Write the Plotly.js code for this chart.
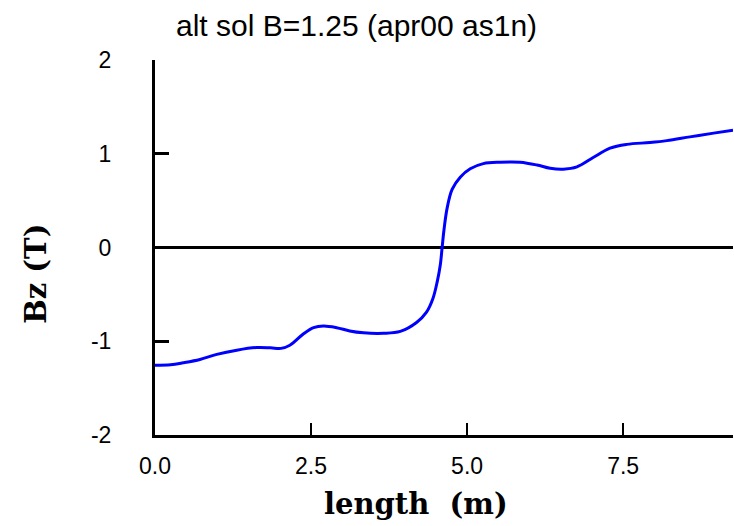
<!DOCTYPE html>
<html>
<head>
<meta charset="utf-8">
<script src="https://cdn.plot.ly/plotly-3.0.1.min.js"></script>
<style>html,body{margin:0;padding:0;background:#fff;}#chart{width:734px;height:526px;}</style>
</head>
<body>
<div id="chart"></div>
<script>
var lengthM = [0.0, 0.25, 0.45, 0.72, 0.99, 1.31, 1.63, 1.85, 2.02, 2.16, 2.38, 2.54, 2.70, 2.91, 3.12, 3.34, 3.66, 3.93, 4.19, 4.35, 4.45, 4.52, 4.57, 4.60, 4.63, 4.68, 4.76, 4.89, 5.05, 5.26, 5.53, 5.85, 6.12, 6.33, 6.54, 6.76, 7.02, 7.29, 7.56, 7.93, 8.20, 8.57, 8.95, 9.26];
var bz = [-1.255, -1.25, -1.23, -1.195, -1.14, -1.095, -1.067, -1.07, -1.076, -1.043, -0.92, -0.855, -0.837, -0.855, -0.89, -0.91, -0.915, -0.895, -0.80, -0.69, -0.55, -0.37, -0.19, 0.0, 0.19, 0.42, 0.62, 0.75, 0.84, 0.895, 0.91, 0.91, 0.88, 0.845, 0.835, 0.86, 0.96, 1.06, 1.10, 1.12, 1.14, 1.18, 1.22, 1.25];
var xTicks = [0, 2.5, 5, 7.5];
var xTickText = ['0.0', '2.5', '5.0', '7.5'];
var yTicks = [-2, -1, 0, 1, 2];
var yTickText = ['-2', '-1', '0', '1', '2'];

var trace = {
  x: lengthM, y: bz, type: 'scatter', mode: 'lines',
  line: {color: '#0000ff', width: 3, shape: 'spline', smoothing: 1.0},
  hoverinfo: 'skip'
};
var layout = {
  width: 734, height: 526,
  margin: {l: 155, r: 1, t: 60, b: 91},
  paper_bgcolor: '#fff', plot_bgcolor: '#fff',
  showlegend: false,
  font: {family: 'Liberation Sans, sans-serif', size: 22, color: '#000'},
  xaxis: {
    range: [0, 9.26], tickvals: xTicks, ticktext: xTickText,
    ticks: 'inside', ticklen: 12, tickwidth: 2, tickcolor: '#000',
    showline: true, linewidth: 3, linecolor: '#000', mirror: false,
    showgrid: false, zeroline: false, ticklabelstandoff: 8,
    tickfont: {family: 'Liberation Sans, sans-serif', size: 23}
  },
  yaxis: {
    range: [-2, 2], tickvals: yTicks, ticktext: yTickText,
    ticks: 'inside', ticklen: 14, tickwidth: 3, tickcolor: '#000',
    showline: true, linewidth: 3, linecolor: '#000', mirror: false,
    showgrid: false, zeroline: true, zerolinewidth: 3, zerolinecolor: '#000',
    ticklabelstandoff: 36,
    tickfont: {family: 'Liberation Sans, sans-serif', size: 23}
  },
  annotations: [
    {text: 'alt sol B=1.25 (apr00 as1n)', xref: 'paper', yref: 'paper', x: 0.3486, y: 1.0, yshift: 35,
     xanchor: 'center', yanchor: 'middle', showarrow: false,
     font: {family: 'Liberation Sans, sans-serif', size: 30}},
    {text: '<b>length\u00a0\u00a0(m)</b>', xref: 'paper', yref: 'paper', x: 0.4507, y: 0, yshift: -69,
     xanchor: 'center', yanchor: 'middle', showarrow: false,
     font: {family: 'DejaVu Serif, serif', size: 29}},
    {text: '<b>Bz (T)</b>', xref: 'paper', yref: 'paper', x: 0, xshift: -119, y: 0.43,
     xanchor: 'center', yanchor: 'middle', showarrow: false, textangle: -90,
     font: {family: 'DejaVu Serif, serif', size: 29}}
  ]
};
Plotly.newPlot('chart', [trace], layout, {displayModeBar: false, staticPlot: true});
</script>
</body>
</html>
